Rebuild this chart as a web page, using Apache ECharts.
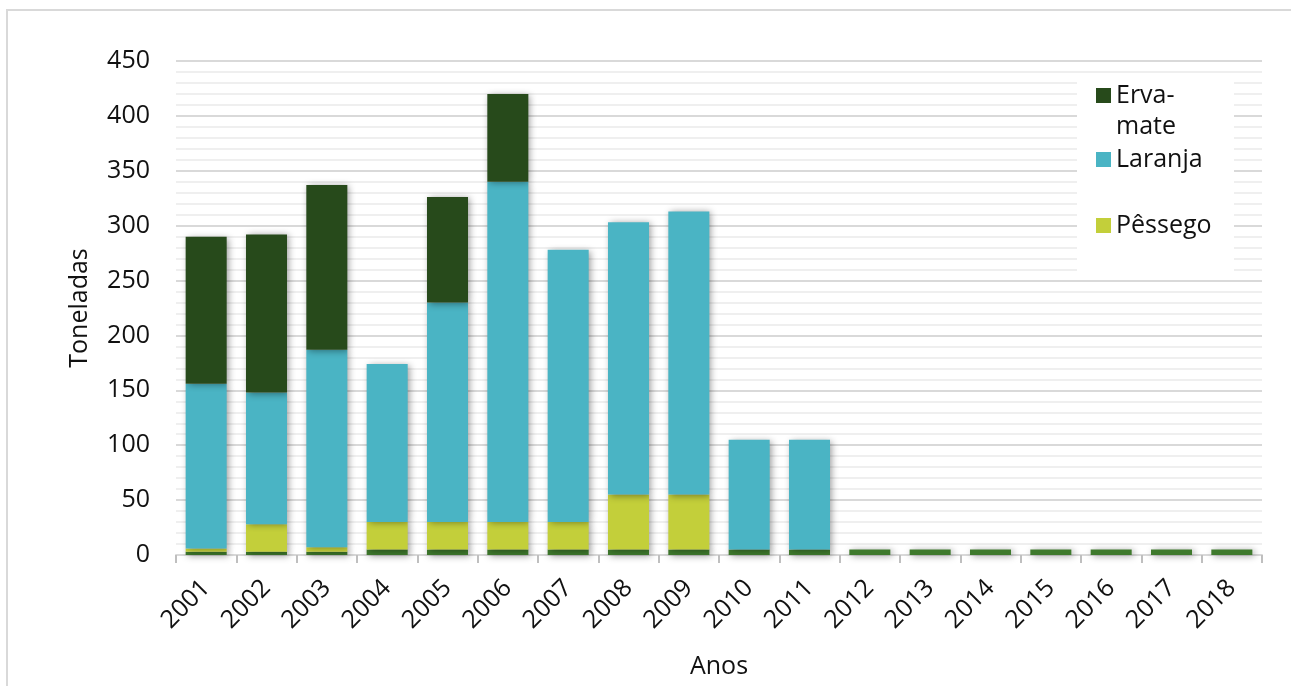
<!DOCTYPE html>
<html>
<head>
<meta charset="utf-8">
<script src="https://cdn.jsdelivr.net/npm/echarts@6/dist/echarts.min.js"></script>
<style>
  html, body { margin: 0; padding: 0; background: #fff; }
  #chart { position: absolute; left: 0; top: 0; width: 1291px; height: 686px; }
  #frame { position: absolute; left: 6px; top: 9px; width: 1400px; height: 800px;
           border: 2px solid #d9d9d9; pointer-events: none; }
</style>
</head>
<body>
<div id="frame"></div>
<div id="chart"></div>
<script>
const years = ['2001','2002','2003','2004','2005','2006','2007','2008','2009','2010','2011','2012','2013','2014','2015','2016','2017','2018'];
const base     = [3, 3, 3, 5, 5, 5, 5, 5, 5, 5, 5, 5, 5, 5, 5, 5, 5, 5];
const pessego  = [3, 25, 4, 25, 25, 25, 25, 50, 50, 0, 0, 0, 0, 0, 0, 0, 0, 0];
const laranja  = [150, 120, 180, 144, 200, 310, 248, 248, 258, 100, 100, 0, 0, 0, 0, 0, 0, 0];
const ervaMate = [134, 144, 150, 0, 96, 80, 0, 0, 0, 0, 0, 0, 0, 0, 0, 0, 0, 0];
const yTicks = [0, 50, 100, 150, 200, 250, 300, 350, 400, 450];

const FONT = '"Open Sans", "Noto Sans", sans-serif';
const FS = 25;
const chart = echarts.init(document.getElementById('chart'), null, { renderer: 'canvas' });

const shadow = { shadowBlur: 7, shadowColor: 'rgba(0,0,0,0.4)', shadowOffsetX: 2, shadowOffsetY: 1 };

function bar(name, data, color) {
  return {
    name: name, type: 'bar', stack: 'total', data: data,
    barCategoryGap: '32%',
    itemStyle: Object.assign({ color: color }, shadow),
    emphasis: { disabled: true }
  };
}

chart.setOption({
  animation: false,
  backgroundColor: 'transparent',
  textStyle: { fontFamily: FONT },
  grid: { left: 176, right: 29, top: 61, bottom: 131 },
  graphic: [{
    type: 'rect', z: 1, silent: true,
    shape: { x: 1077, y: 76, width: 157, height: 199 },
    style: { fill: '#ffffff' }
  }],
  legend: {
    orient: 'vertical',
    left: 1077, top: 47,
    padding: [2, 14, 28, 19],
    itemWidth: 15, itemHeight: 15,
    itemGap: 2,
    icon: 'rect',
    selectedMode: false,
    textStyle: { fontFamily: FONT, fontSize: FS, color: '#111', lineHeight: 31 },
    formatter: function (n) { return n === 'Erva-mate' ? ' \nErva-\nmate' : n; },
    data: [
      'Erva-mate',
      'Laranja',
      { name: ' ', itemStyle: { opacity: 0 } },
      'Pêssego'
    ]
  },
  xAxis: {
    type: 'category',
    data: years,
    name: 'Anos',
    nameLocation: 'middle',
    nameGap: 99,
    nameTextStyle: { fontFamily: FONT, fontSize: FS, color: '#111' },
    axisLine: { lineStyle: { color: '#d9d9d9', width: 2 } },
    axisTick: { show: true, length: 8, lineStyle: { color: '#bfbfbf', width: 2 } },
    axisLabel: { rotate: 45, fontFamily: FONT, fontSize: FS, color: '#111', margin: 29 }
  },
  yAxis: {
    type: 'value',
    min: 0, max: 450, interval: 50,
    name: 'Toneladas',
    nameLocation: 'middle',
    nameGap: 84,
    nameTextStyle: { fontFamily: FONT, fontSize: FS, color: '#111' },
    axisLine: { show: false },
    axisTick: { show: false },
    axisLabel: {
      fontFamily: FONT, fontSize: FS, color: '#111', margin: 26,
      formatter: function (v) { return yTicks.indexOf(v) >= 0 ? String(v) : ''; }
    },
    splitLine: { lineStyle: { color: '#d9d9d9', width: 2 } },
    minorTick: { show: false, splitNumber: 5 },
    minorSplitLine: { show: true, lineStyle: { color: '#efefef', width: 2 } }
  },
  series: [
    bar(' ', base, '#3f7a2d'),
    bar('Pêssego', pessego, '#c3cf3a'),
    bar('Laranja', laranja, '#4ab4c4'),
    bar('Erva-mate', ervaMate, '#274a1b')
  ]
});
</script>
</body>
</html>
